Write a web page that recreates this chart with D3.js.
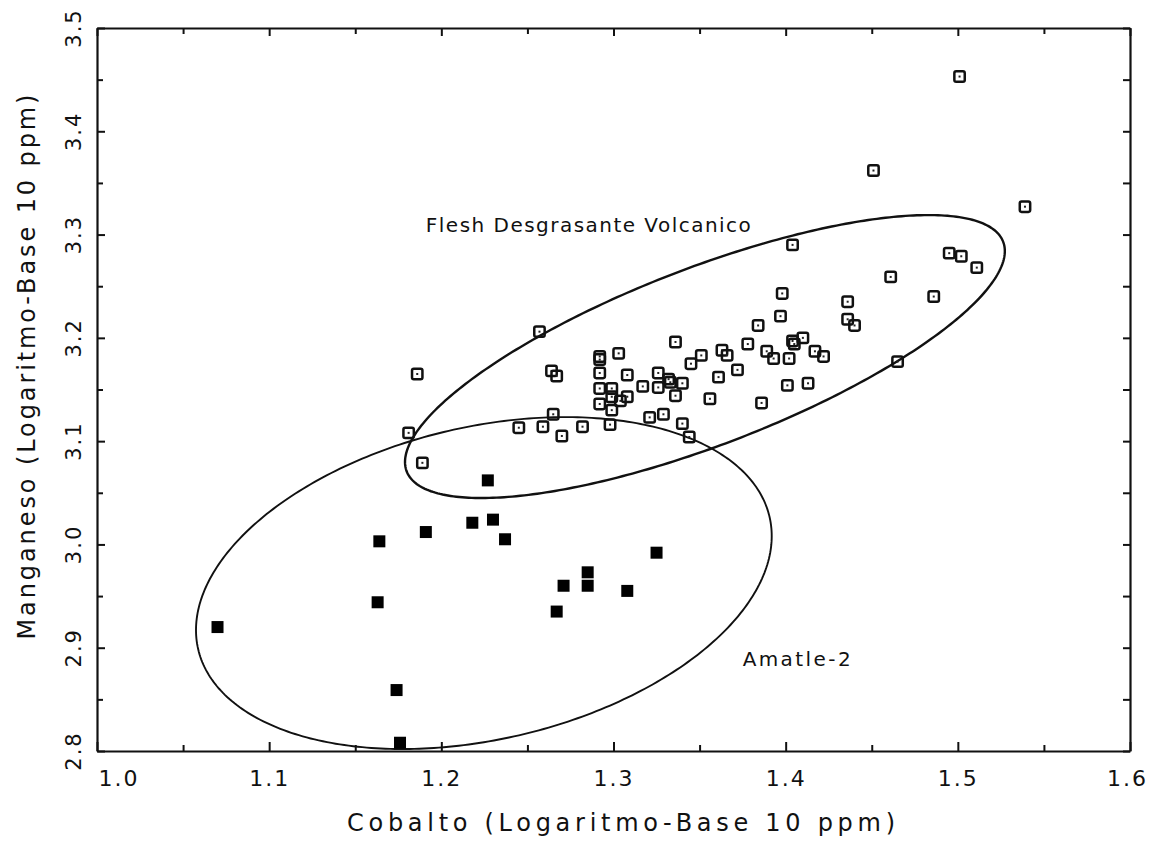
<!DOCTYPE html>
<html>
<head>
<meta charset="utf-8">
<script src="https://cdn.jsdelivr.net/npm/d3@7"></script>
<style>
  html, body { margin: 0; padding: 0; background: #fff; }
  svg { display: block; }
  text { font-family: "DejaVu Sans", "Liberation Sans", sans-serif; fill: #111; }
</style>
</head>
<body>
<svg id="chart" width="1151" height="846"></svg>
<script>
// ---------------- data ----------------
// Flesh Desgrasante Volcanico (open squares)
const fleshCo = [1.501,1.451,1.539,1.404,1.495,1.502,1.511,1.461,1.398,1.486,
                 1.436,1.436,1.440,1.410,1.417,1.422,1.413,1.465,1.397,1.384,
                 1.378,1.363,1.366,1.351,1.345,1.361,1.372,1.389,1.393,1.402,
                 1.404,1.405,1.401,1.356,1.386,1.257,1.336,1.303,1.292,1.292,
                 1.264,1.267,1.292,1.308,1.326,1.332,1.333,1.340,1.317,1.326,
                 1.292,1.299,1.299,1.304,1.308,1.336,1.292,1.299,1.265,1.321,
                 1.329,1.340,1.245,1.259,1.282,1.298,1.270,1.344,1.186,1.181,
                 1.189];
const fleshMn = [3.453,3.362,3.327,3.290,3.282,3.279,3.268,3.259,3.243,3.240,
                 3.235,3.218,3.212,3.200,3.187,3.182,3.156,3.177,3.221,3.212,
                 3.194,3.188,3.183,3.183,3.175,3.162,3.169,3.187,3.180,3.180,
                 3.197,3.194,3.154,3.141,3.137,3.206,3.196,3.185,3.182,3.179,
                 3.168,3.163,3.166,3.164,3.166,3.160,3.157,3.156,3.153,3.152,
                 3.151,3.151,3.143,3.139,3.143,3.144,3.136,3.130,3.126,3.123,
                 3.126,3.117,3.113,3.114,3.114,3.116,3.105,3.104,3.165,3.108,
                 3.079];
// Amatle-2 (filled squares)
const amatleCo = [1.227,1.218,1.230,1.237,1.191,1.164,1.163,1.070,1.174,1.176,
                  1.325,1.285,1.285,1.271,1.308,1.267];
const amatleMn = [3.062,3.021,3.024,3.005,3.012,3.003,2.944,2.920,2.859,2.808,
                  2.992,2.973,2.960,2.960,2.955,2.935];

// group ellipses: centre and two conjugate semi-axis vectors (data units)
const ellipseNames = ["Flesh Desgrasante Volcanico", "Amatle-2"];
const ellipseCx = [1.3531, 1.2247];
const ellipseCy = [3.1819, 2.9626];
const ellipseAx = [0.1742, 0.1672];
const ellipseAy = [0.1021, 0.0455];
const ellipseBx = [0.0, 0.0];
const ellipseBy = [-0.0913, -0.1541];
// label anchors (data units, start of baseline)
const labelCo = [1.191, 1.375];
const labelMn = [3.3024, 2.8823];

// axes
const xDomain = [1.0, 1.6];
const yDomain = [2.8, 3.5];
const xMajor = [1.0, 1.1, 1.2, 1.3, 1.4, 1.5, 1.6];
const xMinor = [1.05, 1.15, 1.25, 1.35, 1.45, 1.55];
const yMajor = [2.8, 2.9, 3.0, 3.1, 3.2, 3.3, 3.4, 3.5];
const yMinor = [2.85, 2.95, 3.05, 3.15, 3.25, 3.35, 3.45];
const xTitle = "Cobalto (Logaritmo-Base 10 ppm)";
const yTitle = "Manganeso (Logaritmo-Base 10 ppm)";

// ---------------- drawing ----------------
const svg = d3.select("#chart");
const L = 97, R = 1130, T = 28, B = 751;
const x = d3.scaleLinear().domain(xDomain).range([L, R]);
const y = d3.scaleLinear().domain(yDomain).range([B, T]);
const fmt = d3.format(".1f");

svg.append("rect").attr("width", 1151).attr("height", 846).attr("fill", "#fff");

// ellipses
const line = d3.line().x(d => x(d[0])).y(d => y(d[1])).curve(d3.curveLinearClosed);
const tt = d3.range(0, 360, 1).map(a => a * Math.PI / 180);
ellipseNames.forEach((name, i) => {
  const pts = tt.map(t => [
    ellipseCx[i] + ellipseAx[i] * Math.cos(t) + ellipseBx[i] * Math.sin(t),
    ellipseCy[i] + ellipseAy[i] * Math.cos(t) + ellipseBy[i] * Math.sin(t)
  ]);
  svg.append("path").attr("d", line(pts))
    .attr("fill", "none").attr("stroke", "#111")
    .attr("stroke-width", i === 0 ? 2.4 : 1.9);
});

// axes (inward ticks on all four sides)
function styleAxis(g) {
  g.select(".domain").attr("stroke", "#111").attr("stroke-width", 2.2);
  g.selectAll(".tick line").attr("stroke", "#111").attr("stroke-width", 2);
}
const gB = svg.append("g").attr("transform", `translate(0,${B})`)
  .call(d3.axisBottom(x).tickValues(xMajor).tickSize(-9).tickSizeOuter(0).tickPadding(19).tickFormat(fmt));
styleAxis(gB);
gB.selectAll(".tick text").attr("font-size", 22).attr("fill", "#111")
  .attr("font-family", "DejaVu Sans, sans-serif").attr("letter-spacing", 2);
gB.selectAll(".tick text").filter(d => d === 1.0).attr("text-anchor", "start").attr("x", 1);
gB.selectAll(".tick text").filter(d => d === 1.6).attr("x", -3);
svg.append("g").attr("transform", `translate(0,${B})`)
  .call(d3.axisBottom(x).tickValues(xMinor).tickSize(-6).tickSizeOuter(0).tickFormat(""))
  .call(g => { g.select(".domain").remove(); g.selectAll("line").attr("stroke", "#111").attr("stroke-width", 2); });

const gT = svg.append("g").attr("transform", `translate(0,${T})`)
  .call(d3.axisTop(x).tickValues(xMajor).tickSize(-8).tickSizeOuter(0).tickFormat(""));
styleAxis(gT);
svg.append("g").attr("transform", `translate(0,${T})`)
  .call(d3.axisTop(x).tickValues(xMinor).tickSize(-6).tickSizeOuter(0).tickFormat(""))
  .call(g => { g.select(".domain").remove(); g.selectAll("line").attr("stroke", "#111").attr("stroke-width", 2); });

const gL = svg.append("g").attr("transform", `translate(${L},0)`)
  .call(d3.axisLeft(y).tickValues(yMajor).tickSize(-8).tickSizeOuter(0).tickFormat(""));
styleAxis(gL);
svg.append("g").attr("transform", `translate(${L},0)`)
  .call(d3.axisLeft(y).tickValues(yMinor).tickSize(-6).tickSizeOuter(0).tickFormat(""))
  .call(g => { g.select(".domain").remove(); g.selectAll("line").attr("stroke", "#111").attr("stroke-width", 2); });

const gR = svg.append("g").attr("transform", `translate(${R},0)`)
  .call(d3.axisRight(y).tickValues(yMajor).tickSize(-7).tickSizeOuter(0).tickFormat(""));
styleAxis(gR);
svg.append("g").attr("transform", `translate(${R},0)`)
  .call(d3.axisRight(y).tickValues(yMinor).tickSize(-7).tickSizeOuter(0).tickFormat(""))
  .call(g => { g.select(".domain").remove(); g.selectAll("line").attr("stroke", "#111").attr("stroke-width", 2); });

// y tick labels (rotated)
svg.append("g").selectAll("text").data(yMajor).join("text")
  .attr("transform", d => `translate(81,${y(d)}) rotate(-90)`)
  .attr("text-anchor", "middle")
  .attr("font-size", 21).attr("letter-spacing", 2)
  .text(fmt);

// axis titles
svg.append("text").attr("x", 621).attr("y", 831)
  .attr("text-anchor", "middle").attr("font-size", 24)
  .attr("textLength", 548).attr("lengthAdjust", "spacing")
  .text(xTitle);
svg.append("text").attr("transform", "translate(35,367) rotate(-90)")
  .attr("text-anchor", "middle").attr("font-size", 24)
  .attr("textLength", 545).attr("lengthAdjust", "spacing")
  .text(yTitle);

// group labels
ellipseNames.forEach((name, i) => {
  svg.append("text").attr("x", x(labelCo[i])).attr("y", y(labelMn[i]))
    .attr("font-size", 20)
    .attr("textLength", i === 0 ? 325 : 108).attr("lengthAdjust", "spacing")
    .text(name);
});

// open squares
const S = 12;
const open = svg.append("g");
fleshCo.forEach((c, i) => {
  const cx = x(c), cy = y(fleshMn[i]);
  open.append("rect").attr("x", cx - 5.2).attr("y", cy - 5.2)
    .attr("width", 10.4).attr("height", 10.4).attr("rx", 1.8)
    .attr("fill", "none")
    .attr("stroke", "#111").attr("stroke-width", 2.5);
  open.append("rect").attr("x", cx - 1).attr("y", cy - 1)
    .attr("width", 2).attr("height", 2).attr("fill", "#222");
});

// filled squares
svg.append("g").selectAll("rect").data(amatleCo).join("rect")
  .attr("x", (c) => x(c) - S / 2)
  .attr("y", (c, i) => y(amatleMn[i]) - S / 2)
  .attr("width", S).attr("height", S).attr("fill", "#000");
</script>
</body>
</html>
